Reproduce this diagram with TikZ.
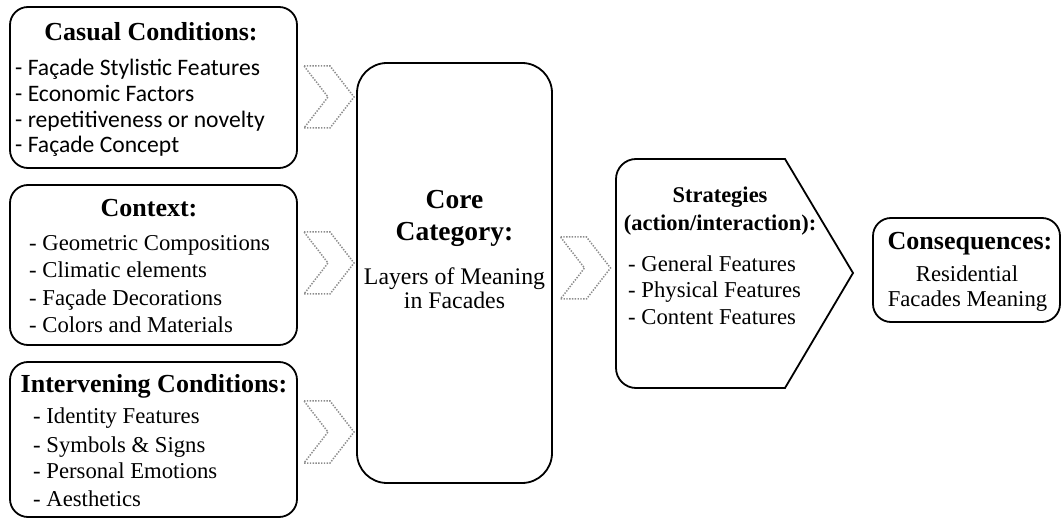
\documentclass[tikz,border=0pt]{standalone}
\usepackage{fontspec}
\setmainfont{Liberation Serif}
\newfontfamily\calfont{Carlito}
\begin{document}
\begin{tikzpicture}[x=1pt,y=-1pt,
  box/.style={draw,line width=1.8pt,rounded corners=18pt,minimum width=#1},
  ttl/.style={inner sep=0pt,anchor=base,font=\bfseries\fontsize{26}{30}\selectfont},
  itm/.style={inner sep=0pt,anchor=base west,font=\fontsize{22.7}{26}\selectfont},
  citm/.style={inner sep=0pt,anchor=base west,font=\calfont\fontsize{23.6}{26}\selectfont},
  txt/.style={inner sep=0pt,anchor=base,font=\fontsize{22.7}{26}\selectfont},
  chev/.pic={\draw[black!45,line width=1.5pt,dash pattern=on 1.4pt off 1.4pt]
     (-25,-31) -- (1,-31) -- (25,0) -- (1,31) -- (-25,31) -- (-1,0) -- cycle;}
]
\useasboundingbox (0,0) rectangle (1061,521);

% left boxes
\node[box=287pt,minimum height=161pt] (casual) at (153.5,87.5) {};
\node[box=287pt,minimum height=160pt] (context) at (153.5,265) {};
\node[box=287pt,minimum height=155pt] (interv) at (153.5,439.5) {};

\node[ttl] (casualT) at (151,41) {Casual Conditions:};
\node[citm] (c1) at (15,76) {- Façade Stylistic Features};
\node[citm] (c2) at (15,102) {- Economic Factors};
\node[citm] (c3) at (15,128) {- repetitiveness or novelty};
\node[citm] (c4) at (15,153) {- Façade Concept};

\node[ttl] (contextT) at (149,217) {Context:};
\node[itm] (x1) at (29,251) {- Geometric Compositions};
\node[itm] (x2) at (29,278) {- Climatic elements};
\node[itm] (x3) at (29,306) {- Façade Decorations};
\node[itm] (x4) at (29,333) {- Colors and Materials};

\node[ttl] (intervT) at (154,393) {Intervening Conditions:};
\node[itm] (i1) at (33,424) {- Identity Features};
\node[itm] (i2) at (33,452) {- Symbols \& Signs};
\node[itm] (i3) at (33,478) {- Personal Emotions};
\node[itm] (i4) at (33,506) {- Aesthetics};

% core
\node[draw,line width=1.8pt,rounded corners=30pt,minimum width=195pt,minimum height=420pt] (core) at (454.5,273) {};
\node[ttl,font=\bfseries\fontsize{27.5}{30}\selectfont] (coreT1) at (454.5,209) {Core};
\node[ttl,font=\bfseries\fontsize{27.5}{30}\selectfont] (coreT2) at (454.5,241) {Category:};
\node[txt,font=\fontsize{23.8}{26}\selectfont] (core1) at (454.5,285) {Layers of Meaning};
\node[txt,font=\fontsize{23.8}{26}\selectfont] (core2) at (454.5,309) {in Facades};

% strategies
\draw[line width=1.8pt] (785,159) -- (636,159) .. controls (625,159) and (616,168) .. (616,179)
  -- (616,368) .. controls (616,379) and (625,388) .. (636,388) -- (785,388) -- (853,273) -- cycle;
\node[inner sep=0pt,minimum width=1pt] (strat) at (735,273) {};
\node[ttl,font=\bfseries\fontsize{22.5}{26}\selectfont] (stratT1) at (720,203) {Strategies};
\node[ttl,font=\bfseries\fontsize{22.5}{26}\selectfont] (stratT2) at (720,231) {(action/interaction):};
\node[itm] (s1) at (628,272) {- General Features};
\node[itm] (s2) at (628,298) {- Physical Features};
\node[itm] (s3) at (628,325) {- Content Features};

% consequences
\node[box=187pt,minimum height=104pt] (cons) at (966.5,270) {};
\node[ttl] (consT) at (970,250) {Consequences:};
\node[txt] (cons1) at (967,282) {Residential};
\node[txt] (cons2) at (967.5,307) {Facades Meaning};

% chevrons
\pic at (329,97) {chev};
\pic at (329,263) {chev};
\pic at (329,432) {chev};
\pic at (585.5,268) {chev};
\end{tikzpicture}
\end{document}
